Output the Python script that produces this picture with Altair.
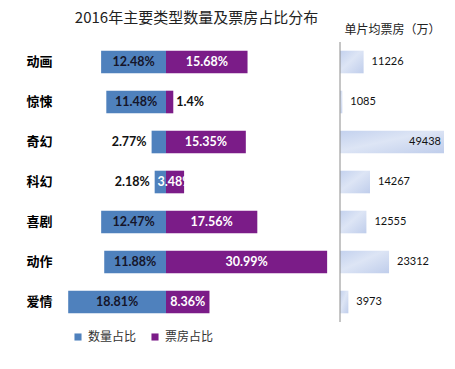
import altair as alt
import pandas as pd

genres = ["动画", "惊悚", "奇幻", "科幻", "喜剧", "动作", "爱情"]
count_share = [12.48, 11.48, 2.77, 2.18, 12.47, 11.88, 18.81]
box_share = [15.68, 1.4, 15.35, 3.48, 17.56, 30.99, 8.36]
avg_box = [11226, 1085, 49438, 14267, 12555, 23312, 3973]
series_names = ["数量占比", "票房占比"]

BLUE = "#4F81BD"
PURPLE = "#7B1C88"
CJK = "Noto Sans CJK SC"
NUM = "Lato"

rows = []
for g, c, b in zip(genres, count_share, box_share):
    rows.append({"genre": g, "series": series_names[0], "v": c})
    rows.append({"genre": g, "series": series_names[1], "v": b})
share_df = pd.DataFrame(rows)
avg_df = pd.DataFrame({"genre": genres, "avg": avg_box})

band = alt.Scale(paddingInner=0.435, paddingOuter=0.2175)
left_scale = alt.Scale(domain=[-20.58, 32.31], nice=False, zero=False)
right_scale = alt.Scale(domain=[0, 49438], nice=False)

y_left = alt.Y(
    "genre:N", sort=genres, scale=band,
    axis=alt.Axis(
        title=None, domain=False, ticks=False, labelPadding=7,
        labelFont=CJK, labelFontWeight="bold", labelFontSize=13, labelColor="#000",
    ),
)
y_plain = alt.Y("genre:N", sort=genres, scale=band)

base = alt.Chart(share_df).transform_calculate(
    xv="datum.series == '数量占比' ? -datum.v : datum.v",
    mid="datum.series == '数量占比' ? -datum.v / 2 : datum.v / 2",
    zero="0",
    lab="datum.v + '%'",
)

bars = base.mark_bar().encode(
    x=alt.X("xv:Q", scale=left_scale, axis=None),
    x2="zero:Q",
    y=y_left,
    color=alt.Color(
        "series:N",
        scale=alt.Scale(domain=series_names, range=[BLUE, PURPLE]),
        legend=alt.Legend(
            title=None, orient="none", legendX=13, legendY=289, direction="horizontal",
            symbolType="square", symbolSize=50, symbolStrokeWidth=0,
            labelFont=CJK, labelFontSize=12, labelColor="#333", columnPadding=12,
        ),
    ),
)

def ltext(flt, field, align, color, dx=0):
    return base.transform_filter(flt).mark_text(
        font=NUM, fontWeight="bold", fontSize=12.5, color=color, align=align,
        baseline="middle", dx=dx,
    ).encode(x=alt.X(field, type="quantitative"), y=y_plain, text="lab:N")

blue_in = ltext("datum.series == '数量占比' && datum.v >= 5", "mid", "center", "#15152a")
blue_out = ltext("datum.series == '数量占比' && datum.v < 5", "xv", "right", "#111", -5)
purple_in = ltext("datum.series == '票房占比' && datum.v >= 2", "mid", "center", "#fff")
purple_out = ltext("datum.series == '票房占比' && datum.v < 2", "xv", "left", "#111", 3)

left = alt.layer(bars, blue_in, blue_out, purple_in, purple_out).properties(
    width=275, height=280,
    title=alt.TitleParams(
        text="2016年主要类型数量及票房占比分布", font=CJK, fontSize=15, fontWeight="normal",
        color="#222", anchor="middle", offset=16,
    ),
)

rbase = alt.Chart(avg_df)

rbars = rbase.mark_bar(
    color=alt.Gradient(
        gradient="linear",
        stops=[
            alt.GradientStop(color="#c3d1ee", offset=0),
            alt.GradientStop(color="#dde5f5", offset=0.45),
            alt.GradientStop(color="#bfcdeb", offset=1),
        ],
        x1=0, x2=1, y1=0, y2=1,
    )
).encode(
    x=alt.X(
        "avg:Q", scale=right_scale,
        axis=alt.Axis(
            orient="top", title="单片均票房（万）", labels=False, ticks=False, domain=False,
            grid=False, titleFont=CJK, titleFontWeight="normal", titleFontSize=12,
            titleColor="#222", titlePadding=6,
        ),
    ),
    x2=alt.X2(datum=0),
    y=alt.Y("genre:N", sort=genres, scale=band, axis=None),
)

rule = rbase.mark_rule(color="#8c8c8c", strokeWidth=1).encode(
    x=alt.X("z:Q")
).transform_aggregate(n="count()").transform_calculate(z="0")

rlab_out = rbase.transform_filter("datum.avg < 40000").mark_text(
    font=NUM, fontSize=11, color="#111", align="left", baseline="middle", dx=8
).encode(x=alt.X("avg:Q"), y=y_plain, text="avg:Q")

rlab_in = rbase.transform_filter("datum.avg >= 40000").mark_text(
    font=NUM, fontSize=11, color="#111", align="right", baseline="middle", dx=-3
).encode(x=alt.X("avg:Q"), y=y_plain, text="avg:Q")

right = alt.layer(rbars, rule, rlab_out, rlab_in).properties(width=104, height=280)

chart = alt.hconcat(left, right, spacing=6, bounds="flush").properties(
    padding={"left": 17, "top": 3, "right": 0, "bottom": 0},
    background="#ffffff",
).configure_view(stroke=None)

chart.save("out.html", embed_options={"renderer": "svg", "actions": False})
